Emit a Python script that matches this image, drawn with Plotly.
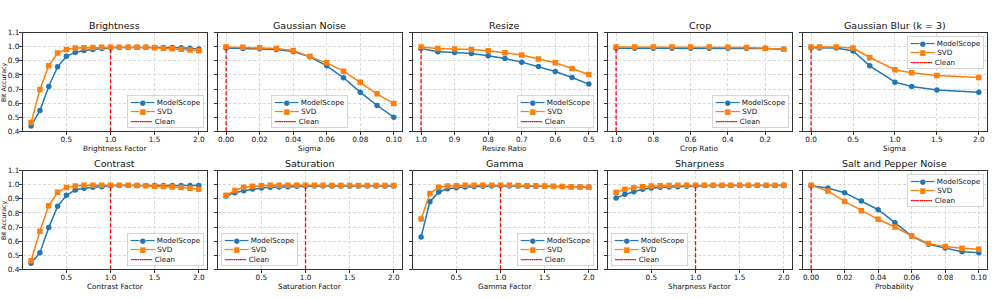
import plotly.graph_objects as go
from plotly.subplots import make_subplots

# ---------------- data ----------------
titles = ["Brightness", "Gaussian Noise", "Resize", "Crop", "Gaussian Blur (k = 3)",
          "Contrast", "Saturation", "Gamma", "Sharpness", "Salt and Pepper Noise"]
xlabels = ["Brightness Factor", "Sigma", "Resize Ratio", "Crop Ratio", "Sigma",
           "Contrast Factor", "Saturation Factor", "Gamma Factor", "Sharpness Factor", "Probability"]

factor_x = [0.1, 0.2, 0.3, 0.4, 0.5, 0.6, 0.7, 0.8, 0.9, 1.0,
            1.1, 1.2, 1.3, 1.4, 1.5, 1.6, 1.7, 1.8, 1.9, 2.0]
noise_x = [0.0, 0.01, 0.02, 0.03, 0.04, 0.05, 0.06, 0.07, 0.08, 0.09, 0.10]
resize_x = [1.0, 0.95, 0.9, 0.85, 0.8, 0.75, 0.7, 0.65, 0.6, 0.55, 0.5]
crop_x = [1.0, 0.9, 0.8, 0.7, 0.6, 0.5, 0.4, 0.3, 0.2, 0.1]
blur_x = [0.0, 0.1, 0.3, 0.5, 0.7, 1.0, 1.2, 1.5, 2.0]
sp_x = [0.0, 0.01, 0.02, 0.03, 0.04, 0.05, 0.06, 0.07, 0.08, 0.09, 0.10]

brightness_ms = [0.438, 0.547, 0.718, 0.858, 0.932, 0.960, 0.974, 0.981, 0.988, 0.993,
                 0.995, 0.996, 0.996, 0.996, 0.995, 0.995, 0.995, 0.994, 0.990, 0.985]
brightness_svd = [0.462, 0.697, 0.865, 0.955, 0.981, 0.991, 0.993, 0.995, 0.997, 0.997,
                  0.996, 0.996, 0.996, 0.996, 0.994, 0.990, 0.986, 0.983, 0.978, 0.972]
noise_ms = [0.991, 0.988, 0.986, 0.981, 0.967, 0.929, 0.865, 0.780, 0.678, 0.583, 0.500]
noise_svd = [0.998, 0.996, 0.993, 0.988, 0.974, 0.932, 0.886, 0.827, 0.749, 0.666, 0.597]
resize_ms = [0.988, 0.965, 0.960, 0.953, 0.936, 0.917, 0.891, 0.860, 0.825, 0.782, 0.735]
resize_svd = [0.998, 0.988, 0.984, 0.981, 0.972, 0.958, 0.941, 0.913, 0.886, 0.846, 0.803]
crop_ms = [0.990, 0.990, 0.990, 0.990, 0.990, 0.990, 0.990, 0.990, 0.988, 0.982]
crop_svd = [0.998, 0.998, 0.998, 0.998, 0.998, 0.998, 0.997, 0.995, 0.990, 0.982]
blur_ms = [0.993, 0.991, 0.991, 0.970, 0.865, 0.749, 0.718, 0.694, 0.678]
blur_svd = [0.998, 0.998, 0.998, 0.991, 0.924, 0.837, 0.815, 0.796, 0.782]
contrast_ms = [0.443, 0.518, 0.696, 0.847, 0.925, 0.963, 0.975, 0.982, 0.986, 0.993,
               0.995, 0.995, 0.995, 0.995, 0.995, 0.995, 0.995, 0.995, 0.995, 0.995]
contrast_svd = [0.461, 0.670, 0.852, 0.947, 0.980, 0.991, 0.996, 0.997, 0.997, 0.997,
                0.997, 0.996, 0.995, 0.993, 0.990, 0.987, 0.985, 0.981, 0.976, 0.969]
saturation_ms = [0.920, 0.944, 0.958, 0.970, 0.977, 0.982, 0.984, 0.986, 0.989, 0.992,
                 0.992, 0.992, 0.992, 0.992, 0.992, 0.992, 0.992, 0.992, 0.992, 0.992]
saturation_svd = [0.925, 0.960, 0.982, 0.989, 0.994, 0.996, 0.996, 0.996, 0.996, 0.996,
                  0.996, 0.996, 0.995, 0.995, 0.995, 0.995, 0.995, 0.995, 0.995, 0.995]
gamma_ms = [0.629, 0.880, 0.949, 0.972, 0.979, 0.984, 0.988, 0.990, 0.991, 0.993,
            0.992, 0.991, 0.990, 0.990, 0.989, 0.988, 0.987, 0.986, 0.985, 0.985]
gamma_svd = [0.757, 0.939, 0.982, 0.991, 0.994, 0.996, 0.996, 0.996, 0.996, 0.996,
             0.996, 0.995, 0.994, 0.993, 0.991, 0.989, 0.987, 0.985, 0.984, 0.982]
sharpness_ms = [0.906, 0.932, 0.951, 0.968, 0.977, 0.982, 0.984, 0.986, 0.989, 0.993,
                0.995, 0.995, 0.995, 0.995, 0.995, 0.995, 0.995, 0.995, 0.995, 0.995]
sharpness_svd = [0.946, 0.968, 0.979, 0.986, 0.991, 0.994, 0.995, 0.996, 0.997, 0.997,
                 0.997, 0.997, 0.997, 0.997, 0.997, 0.997, 0.997, 0.997, 0.997, 0.997]
sp_ms = [0.993, 0.977, 0.944, 0.885, 0.823, 0.731, 0.636, 0.577, 0.551, 0.525, 0.518]
sp_svd = [0.996, 0.956, 0.882, 0.816, 0.755, 0.700, 0.636, 0.584, 0.561, 0.549, 0.542]

clean_x = [1.0, 0.0, 1.0, 1.0, 0.0, 1.0, 1.0, 1.0, 1.0, 0.0]
clean_y = [0.4, 1.0]

y_ticks = [0.4, 0.5, 0.6, 0.7, 0.8, 0.9, 1.0, 1.1]

xs = [factor_x, noise_x, resize_x, crop_x, blur_x, factor_x, factor_x, factor_x, factor_x, sp_x]
ms_vals = [brightness_ms, noise_ms, resize_ms, crop_ms, blur_ms,
           contrast_ms, saturation_ms, gamma_ms, sharpness_ms, sp_ms]
svd_vals = [brightness_svd, noise_svd, resize_svd, crop_svd, blur_svd,
            contrast_svd, saturation_svd, gamma_svd, sharpness_svd, sp_svd]

# ---------------- styling ----------------
BLUE = "#1f77b4"
ORANGE = "#ff7f0e"
RED = "#ff0000"
FONT = "DejaVu Sans"
W, H = 997, 299

x_ranges = [[0.005, 2.095], [-0.005, 0.105], [1.025, 0.475], [1.045, 0.055], [-0.1, 2.1],
            [0.005, 2.095], [0.005, 2.095], [0.005, 2.095], [0.005, 2.095], [-0.005, 0.105]]
x_dtick = [0.5, 0.02, 0.1, 0.2, 0.5, 0.5, 0.5, 0.5, 0.5, 0.02]
x_fmt = [".1f", ".2f", ".1f", ".1f", ".1f", ".1f", ".1f", ".1f", ".1f", ".2f"]
legend_pos = ["lower right", "lower center", "lower right", "lower right", "upper right",
              "lower right", "lower left", "lower right", "lower left", "upper right"]

fig = make_subplots(rows=2, cols=5)

col_left = [22.7 + 195 * i for i in range(5)]
col_w = 184.5
row_top = [32.7, 170.7]
row_h = 98.6

axis_common = dict(
    showline=True, mirror=True, linecolor="#333", linewidth=0.9,
    ticks="outside", ticklen=3, tickwidth=0.8, tickcolor="#333",
    showgrid=True, gridcolor="#d9d9d9", griddash="3px,2px", gridwidth=0.7,
    zeroline=False, tickfont=dict(size=7.3, color="#111", family=FONT),
    ticklabelstandoff=-2,
)

for i in range(10):
    r, c = i // 5 + 1, i % 5 + 1
    fig.add_trace(go.Scatter(x=xs[i], y=ms_vals[i], mode="lines+markers", name="ModelScope",
                             line=dict(color=BLUE, width=1.5),
                             marker=dict(symbol="circle", size=5.5, color=BLUE),
                             showlegend=False), row=r, col=c)
    fig.add_trace(go.Scatter(x=xs[i], y=svd_vals[i], mode="lines+markers", name="SVD",
                             line=dict(color=ORANGE, width=1.5),
                             marker=dict(symbol="square", size=5.5, color=ORANGE),
                             showlegend=False), row=r, col=c)
    fig.add_trace(go.Scatter(x=[clean_x[i], clean_x[i]], y=clean_y, mode="lines", name="Clean",
                             line=dict(color=RED, width=1.3, dash="4px,2px"),
                             showlegend=False), row=r, col=c)

    x0 = col_left[c - 1]
    y0 = row_top[r - 1]
    suffix = "" if i == 0 else str(i + 1)
    fig.layout["xaxis" + suffix].update(
        domain=[x0 / W, (x0 + col_w) / W],
        range=x_ranges[i], dtick=x_dtick[i], tick0=0, tickformat=x_fmt[i],
        **axis_common,
    )
    fig.layout["yaxis" + suffix].update(
        domain=[1 - (y0 + row_h) / H, 1 - y0 / H],
        range=[0.4, 1.1], tickvals=y_ticks, tickformat=".1f",
        showticklabels=(c == 1), **axis_common,
    )

    xd = ("x" + suffix) + " domain"
    yd = ("y" + suffix) + " domain"
    # subplot title
    fig.add_annotation(text=titles[i], xref=xd, yref=yd, x=0.5, y=1, xanchor="center",
                       yanchor="middle", yshift=7, showarrow=False,
                       font=dict(size=9.5, color="#111", family=FONT))
    # x label
    fig.add_annotation(text=xlabels[i], xref=xd, yref=yd, x=0.5, y=0, xanchor="center",
                       yanchor="middle", yshift=-17, showarrow=False,
                       font=dict(size=7.3, color="#111", family=FONT))
    # legend box
    vert, horiz = legend_pos[i].split()
    fig.add_annotation(
        text=(f'<span style="color:{BLUE}">━━●━━</span> ModelScope<br>'
              f'<span style="color:{ORANGE}">━━■━━</span> SVD<br>'
              f'<span style="color:{RED}">╍╍╍╍╍</span> Clean'),
        xref=xd, yref=yd,
        x={"right": 1, "left": 0, "center": 0.5}[horiz],
        y={"lower": 0, "upper": 1}[vert],
        xanchor=horiz, yanchor={"lower": "bottom", "upper": "top"}[vert],
        xshift={"right": -3, "left": 3, "center": 0}[horiz],
        yshift={"lower": 3, "upper": -3}[vert],
        align="left", showarrow=False,
        bgcolor="rgba(255,255,255,0.85)", bordercolor="#cccccc", borderwidth=0.8, borderpad=2,
        font=dict(size=7.2, color="#111", family=FONT),
    )

# y labels, kept inside the picture at the left edge
for r in range(2):
    yc = row_top[r] + row_h / 2
    fig.add_annotation(text="Bit Accuracy", xref="paper", yref="paper",
                       x=4.1 / W, y=1 - yc / H, xanchor="center", yanchor="middle",
                       textangle=-90, showarrow=False, borderpad=0,
                       font=dict(size=6.3, color="#111", family=FONT))

fig.update_layout(
    width=W, height=H,
    margin=dict(l=0, r=0, t=0, b=0, autoexpand=False),
    paper_bgcolor="white", plot_bgcolor="white",
    font=dict(family=FONT, size=7.3, color="#111"),
    showlegend=False,
)

fig.write_html("out.html", config={"displayModeBar": False},
               post_script="document.body.style.margin='0';")
